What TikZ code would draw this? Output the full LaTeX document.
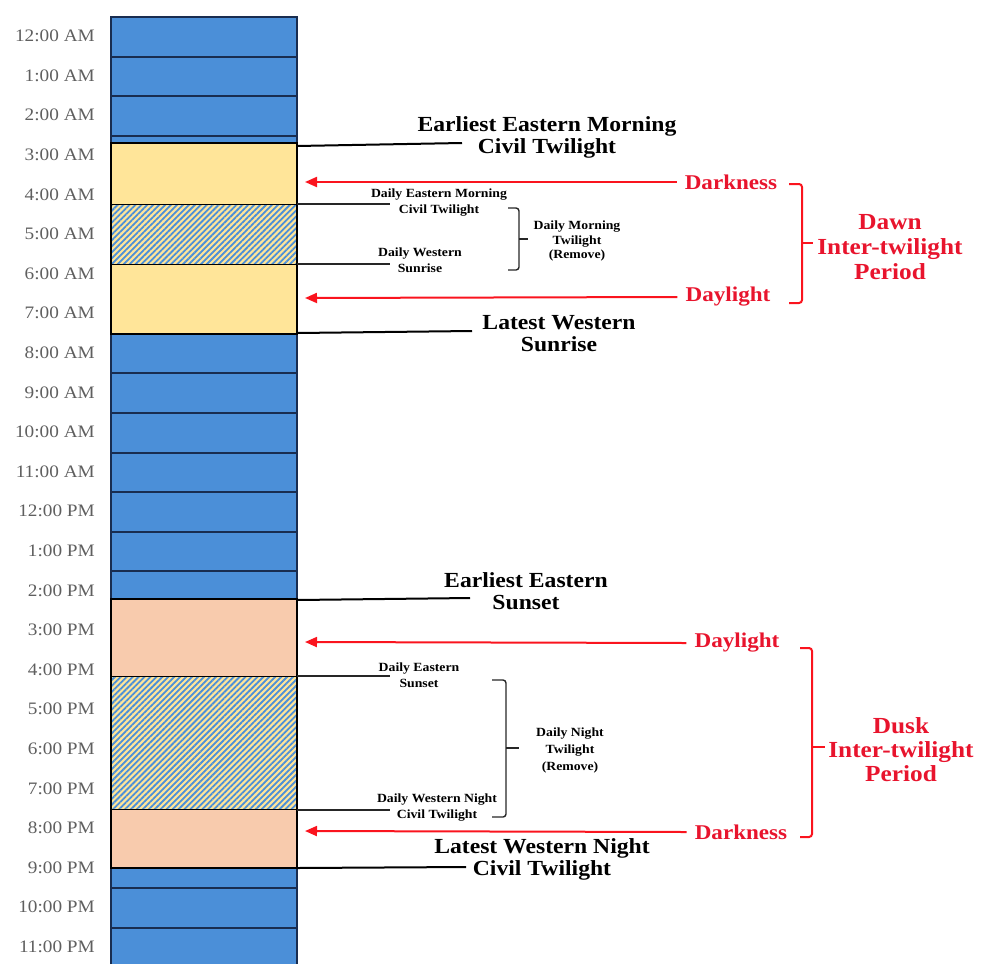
\documentclass[tikz,border=0pt]{standalone}
\usepackage{fontspec}
\usetikzlibrary{arrows.meta,patterns.meta}
\newfontfamily\lblfont{Liberation Serif}[FakeStretch=1.1]
\definecolor{colblue}{RGB}{75,143,216}
\definecolor{rowline}{RGB}{25,45,80}
\definecolor{dawnyel}{RGB}{255,229,153}
\definecolor{duskpch}{RGB}{248,203,173}
\definecolor{redtxt}{RGB}{232,20,45}
\definecolor{redln}{RGB}{250,20,30}
\definecolor{timegray}{RGB}{95,95,95}
\tikzset{
  timelbl/.style={anchor=east,inner sep=0pt,text=timegray,font=\lblfont\fontsize{17.5}{17.5}\selectfont},
  biglbl/.style={inner sep=0pt,align=center,font=\lblfont\bfseries\fontsize{21.5}{22}\selectfont},
  smalllbl/.style={inner sep=0pt,align=center,font=\lblfont\bfseries\fontsize{12.5}{16}\selectfont},
  redlbl/.style={inner sep=0pt,align=center,text=redtxt,font=\lblfont\bfseries\fontsize{21}{24}\selectfont},
  bigconn/.style={draw=black,line width=2pt},
  smallconn/.style={draw=black!85,line width=1.3pt},
  redarr/.style={draw=redln,line width=2pt,-{Triangle[length=12pt,width=10pt]}},
  blackbrace/.style={draw=black!85,line width=1.4pt,rounded corners=3pt},
  redbrace/.style={draw=redln,line width=2pt,rounded corners=3pt},
  band/.style={draw=black,line width=1.2pt},
  hatchband/.style={pattern={Lines[angle=45,distance=4.2pt,line width=1.8pt]},pattern color=colblue}
}
\begin{document}
\begin{tikzpicture}[x=1pt,y=-1pt]
\useasboundingbox (0,0) rectangle (981,964);
% column
\fill[colblue] (111,17) rectangle (297,964);
\foreach \k in {1,...,23} {
  \draw[rowline,line width=2pt] (111,{17+39.6*\k}) -- (297,{17+39.6*\k});
}
\draw[rowline,line width=1.2pt] (111,964) -- (111,17) -- (297,17) -- (297,964);
% dawn band
\fill[dawnyel] (111,143) rectangle (297,334);
\fill[dawnyel] (111,204) rectangle (297,264);
\fill[hatchband] (111,204) rectangle (297,264);
\draw[band] (111,143) rectangle (297,334);
\draw[black,line width=1pt] (111,204) rectangle (297,264);
% dusk band
\fill[duskpch] (111,599) rectangle (297,868);
\fill[dawnyel] (111,676) rectangle (297,809);
\fill[hatchband] (111,676) rectangle (297,809);
\draw[band] (111,599) rectangle (297,868);
\draw[black,line width=1pt] (111,676) rectangle (297,809);
% time labels
\foreach \t [count=\i from 0] in {12:00 AM,1:00 AM,2:00 AM,3:00 AM,4:00 AM,5:00 AM,6:00 AM,7:00 AM,8:00 AM,9:00 AM,10:00 AM,11:00 AM,12:00 PM,1:00 PM,2:00 PM,3:00 PM,4:00 PM,5:00 PM,6:00 PM,7:00 PM,8:00 PM,9:00 PM,10:00 PM,11:00 PM} {
  \node[timelbl] (t\i) at (95,{36+39.6*\i}) {\t};
}
% big labels
\node[biglbl] (eeM) at (547,137) {Earliest Eastern Morning\\Civil Twilight};
\node[biglbl] (lwS) at (559,334) {Latest Western\\Sunrise};
\node[biglbl] (eeS) at (526,591) {Earliest Eastern\\Sunset};
\node[biglbl] (lwN) at (542,859) {Latest Western Night\\Civil Twilight};
\coordinate (eeMa) at (297,146); \coordinate (eeMb) at (462,143);
\coordinate (lwSa) at (297,333); \coordinate (lwSb) at (472,331);
\coordinate (eeSa) at (297,600); \coordinate (eeSb) at (470,598);
\coordinate (lwNa) at (297,868); \coordinate (lwNb) at (466,867);
\draw[bigconn] (eeMa) -- (eeMb);
\draw[bigconn] (lwSa) -- (lwSb);
\draw[bigconn] (eeSa) -- (eeSb);
\draw[bigconn] (lwNa) -- (lwNb);
% small labels
\node[smalllbl] (deM) at (439,203) {Daily Eastern Morning\\Civil Twilight};
\node[smalllbl] (dwS) at (420,260) {Daily Western\\Sunrise};
\node[smalllbl] (deS) at (419,675) {Daily Eastern\\Sunset};
\node[smalllbl] (dwN) at (437,808) {Daily Western Night\\Civil Twilight};
\coordinate (deMa) at (297,204); \coordinate (deMb) at (390,204);
\coordinate (dwSa) at (297,264); \coordinate (dwSb) at (390,264);
\coordinate (deSa) at (297,676); \coordinate (deSb) at (390,676);
\coordinate (dwNa) at (297,810); \coordinate (dwNb) at (390,810);
\draw[smallconn] (deMa) -- (deMb);
\draw[smallconn] (dwSa) -- (dwSb);
\draw[smallconn] (deSa) -- (deSb);
\draw[smallconn] (dwNa) -- (dwNb);
% black braces
\coordinate (bb1a) at (508,208); \coordinate (bb1b) at (508,270);
\coordinate (bb1m) at (519,239); \coordinate (bb1t) at (528,239);
\draw[blackbrace] (bb1a) -| (bb1m) |- (bb1b);
\draw[blackbrace] (bb1m) -- (bb1t);
\coordinate (bb2a) at (492,680); \coordinate (bb2b) at (492,817);
\coordinate (bb2m) at (506,748); \coordinate (bb2t) at (519,748);
\draw[blackbrace] (bb2a) -| (bb2m) |- (bb2b);
\draw[blackbrace] (bb2m) -- (bb2t);
\node[smalllbl,font=\lblfont\bfseries\fontsize{12.5}{14.5}\selectfont] (dmt) at (577,241) {Daily Morning\\Twilight\\(Remove)};
\node[smalllbl,font=\lblfont\bfseries\fontsize{12.5}{17}\selectfont] (dnt) at (570,750) {Daily Night\\Twilight\\(Remove)};
% red labels and arrows
\node[redlbl] (dk1) at (731,182) {Darkness};
\node[redlbl] (dl1) at (728,297) {Daylight};
\node[redlbl] (dl2) at (737,643) {Daylight};
\node[redlbl] (dk2) at (741,832) {Darkness};
\coordinate (dk1t) at (305,182);
\coordinate (dl1t) at (305,298);
\coordinate (dl2t) at (305,642);
\coordinate (dk2t) at (305,831);
\draw[redarr] ([xshift=-8pt]dk1.west) -- (dk1t);
\draw[redarr] ([xshift=-8pt]dl1.west) -- (dl1t);
\draw[redarr] ([xshift=-8pt]dl2.west) -- (dl2t);
\draw[redarr] ([xshift=-8pt]dk2.west) -- (dk2t);
% red braces
\coordinate (rb1a) at (789,184); \coordinate (rb1b) at (789,303);
\coordinate (rb1m) at (802,243); \coordinate (rb1t) at (813,243);
\draw[redbrace] (rb1a) -| (rb1m) |- (rb1b);
\draw[redbrace] (rb1m) -- (rb1t);
\coordinate (rb2a) at (800,648); \coordinate (rb2b) at (800,837);
\coordinate (rb2m) at (812,747); \coordinate (rb2t) at (825,747);
\draw[redbrace] (rb2a) -| (rb2m) |- (rb2b);
\draw[redbrace] (rb2m) -- (rb2t);
\node[redlbl,font=\lblfont\bfseries\fontsize{23}{25}\selectfont] (dawn) at (890,247) {Dawn\\Inter-twilight\\Period};
\node[redlbl,font=\lblfont\bfseries\fontsize{23}{24}\selectfont] (dusk) at (901,750) {Dusk\\Inter-twilight\\Period};
\end{tikzpicture}
\end{document}
